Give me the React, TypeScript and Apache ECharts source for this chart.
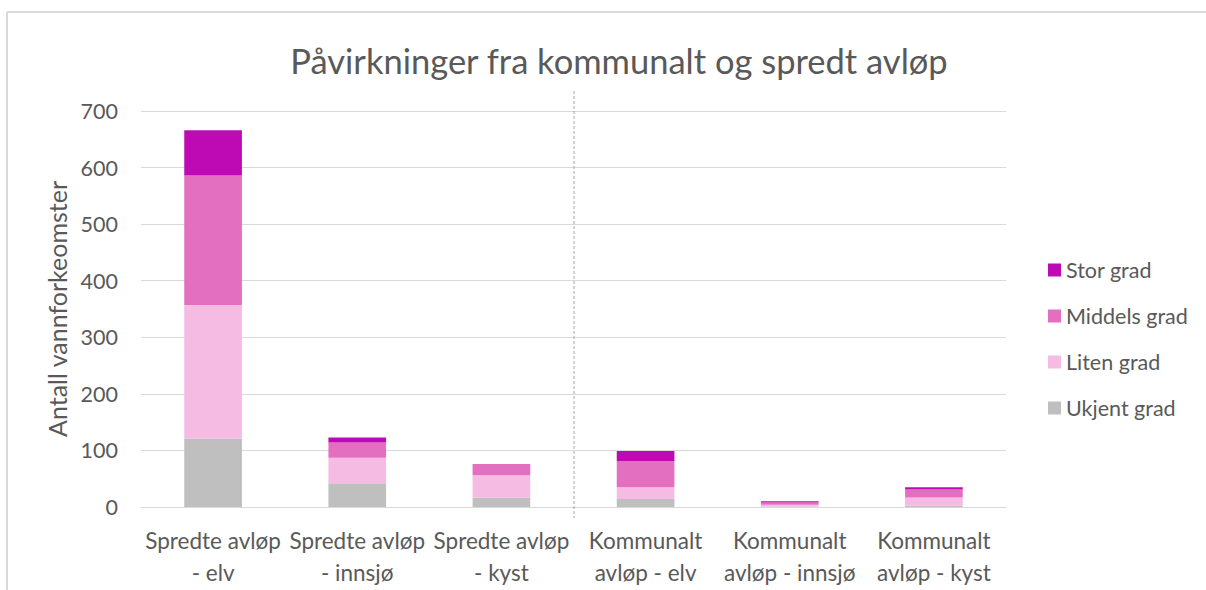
import React, { useEffect, useRef } from "react";
import * as echarts from "echarts";

const categories = [
  "Spredte avløp\n- elv",
  "Spredte avløp\n- innsjø",
  "Spredte avløp\n- kyst",
  "Kommunalt\navløp - elv",
  "Kommunalt\navløp - innsjø",
  "Kommunalt\navløp - kyst",
];
const ukjentGrad = [121, 42, 17, 14, 1, 2];
const litenGrad = [236, 45, 39, 21, 3, 15];
const middelsGrad = [229, 27, 20, 46, 4, 14];
const storGrad = [80, 9, 0, 18, 2, 4];
const yTicks = [0, 100, 200, 300, 400, 500, 600, 700];

const FONT = "Lato, 'Open Sans', sans-serif";

export default function App() {
  const ref = useRef<HTMLDivElement>(null);
  useEffect(() => {
    if (!ref.current) return;
    const chart = echarts.init(ref.current, null, { renderer: "svg" });
    const mk = (name: string, data: number[], color: string) => ({
      name,
      type: "bar",
      stack: "total",
      data,
      barWidth: "40%",
      itemStyle: { color },
      emphasis: { disabled: true },
    });
    chart.setOption({
      animation: false,
      backgroundColor: "#ffffff",
      textStyle: { fontFamily: FONT },
      title: {
        text: "Påvirkninger fra kommunalt og spredt avløp",
        left: 614,
        textAlign: "center",
        top: 38,
        textStyle: { fontFamily: FONT, fontSize: 34.5, fontWeight: "normal", color: "#595959" },
      },
      grid: { left: 141, right: 200, top: 111, bottom: 83, containLabel: false },
      legend: {
        orient: "vertical",
        left: 1043,
        top: 254,
        itemWidth: 13,
        itemHeight: 13,
        itemGap: 24,
        icon: "rect",
        data: ["Stor grad", "Middels grad", "Liten grad", "Ukjent grad"],
        textStyle: { fontFamily: FONT, fontSize: 21.5, color: "#595959", lineHeight: 21 },
      },
      xAxis: {
        type: "category",
        data: categories,
        axisLine: { lineStyle: { color: "#D9D9D9", width: 1 } },
        axisTick: { show: false },
        axisLabel: {
          interval: 0,
          margin: 17,
          fontFamily: FONT,
          fontSize: 22.5,
          lineHeight: 32,
          color: "#595959",
        },
      },
      yAxis: {
        type: "value",
        min: yTicks[0],
        max: yTicks[yTicks.length - 1],
        interval: 100,
        name: "Antall vannforkeomster",
        nameLocation: "middle",
        nameGap: 67,
        nameTextStyle: { fontFamily: FONT, fontSize: 25, color: "#595959" },
        axisLine: { show: false },
        axisTick: { show: false },
        splitLine: { lineStyle: { color: "#D9D9D9", width: 1 } },
        axisLabel: { margin: 23, fontFamily: FONT, fontSize: 21.5, color: "#595959" },
      },
      graphic: [
        { type: "line", shape: { x1: 7, y1: 12, x2: 1206, y2: 12 }, style: { stroke: "#D9D9D9", lineWidth: 2 } },
        { type: "line", shape: { x1: 7, y1: 12, x2: 7, y2: 590 }, style: { stroke: "#D9D9D9", lineWidth: 2 } },
        {
          type: "line",
          shape: { x1: 574, y1: 91, x2: 574, y2: 518 },
          style: { stroke: "#A6A6A6", lineWidth: 1, lineDash: [3, 2] },
          z: 10,
        },
      ],
      series: [
        mk("Ukjent grad", ukjentGrad, "#BFBFBF"),
        mk("Liten grad", litenGrad, "#F5BBE3"),
        mk("Middels grad", middelsGrad, "#E36FC0"),
        mk("Stor grad", storGrad, "#BE0AB4"),
      ],
    });
    return () => chart.dispose();
  }, []);
  return (
    <div
      ref={ref}
      style={{ position: "fixed", left: 0, top: 0, width: 1206, height: 590 }}
    />
  );
}
